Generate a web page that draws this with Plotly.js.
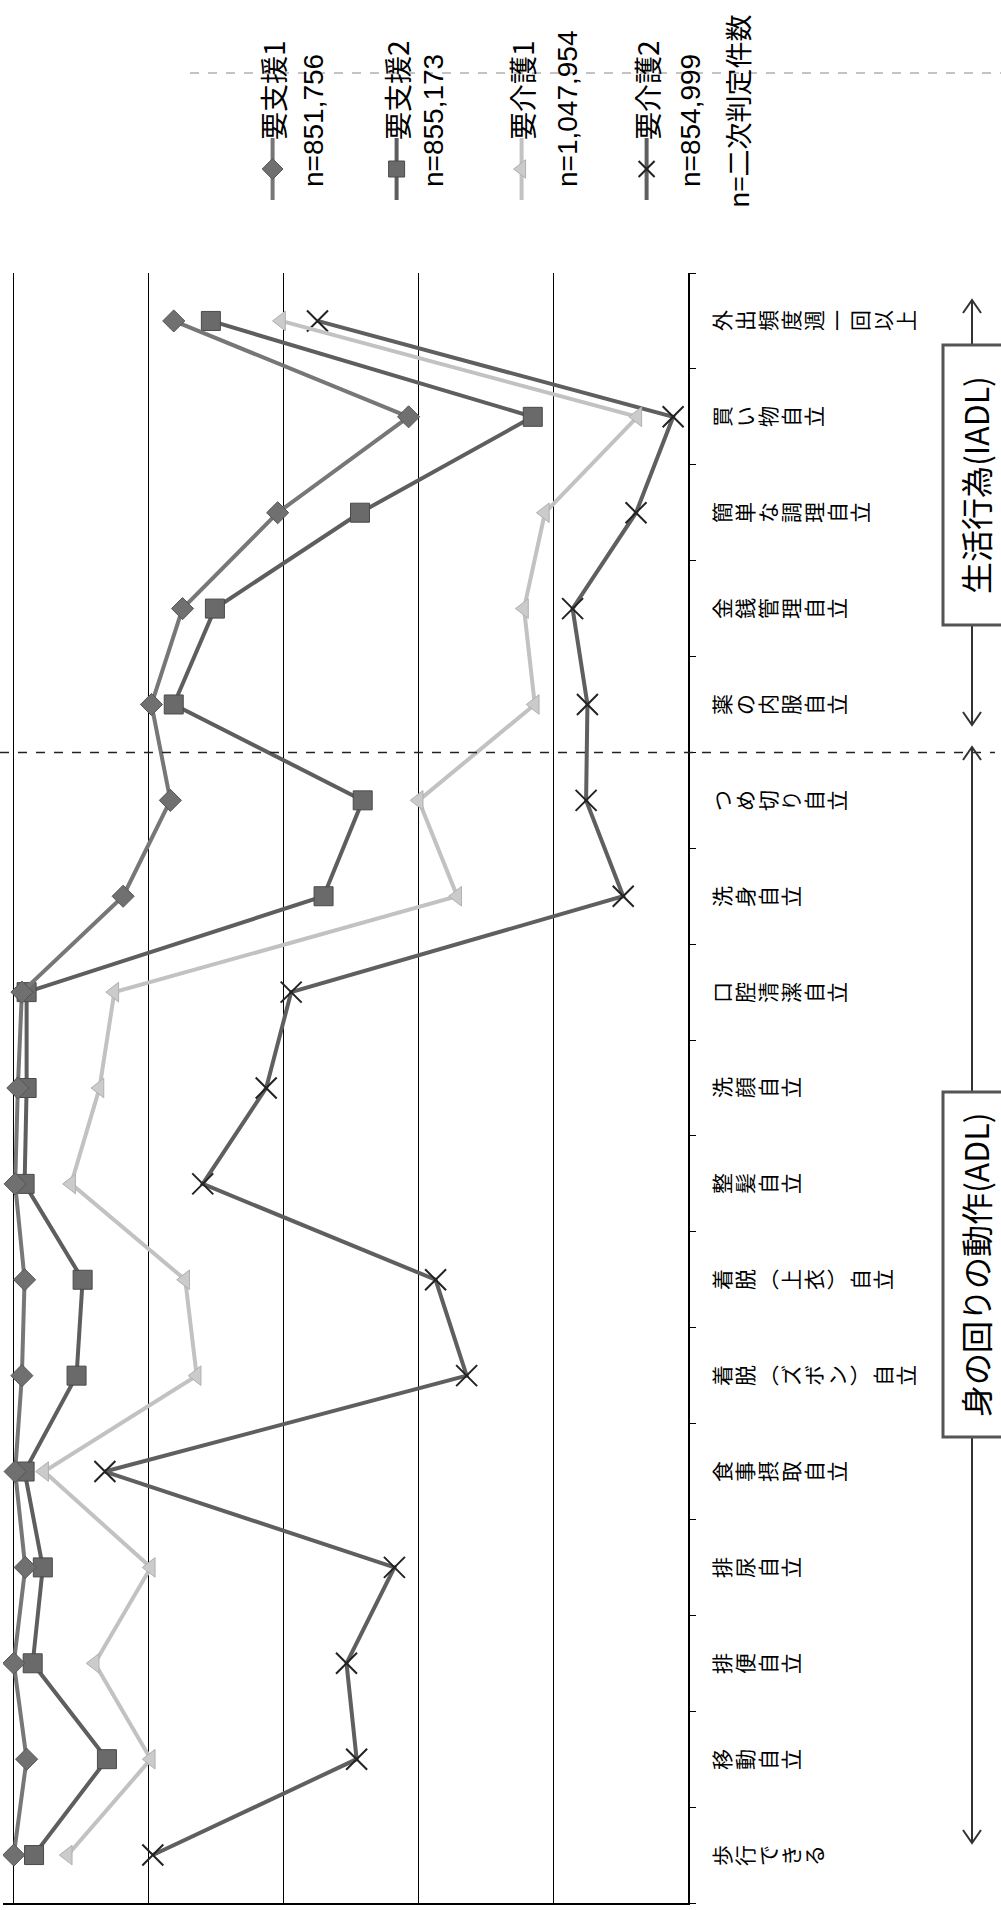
<!DOCTYPE html>
<html>
<head>
<meta charset="utf-8">
<script src="https://cdn.plot.ly/plotly-3.0.1.min.js"></script>
<style>
  html, body { margin: 0; padding: 0; overflow: hidden; background: #fff; }
  body { width: 1001px; height: 1910px; position: relative; }
  /* the scanned page is turned on its side: draw upright, then rotate */
  #chart {
    position: absolute; left: 0; top: 0;
    width: 1910px; height: 1001px;
    transform-origin: 0 0;
    transform: translate(0, 1910px) rotate(-90deg);
  }
</style>
</head>
<body>
<div id="chart"></div>
<script>
// categories, left to right on the upright chart
const categories = [
    '歩行できる', '移動自立', '排便自立', '排尿自立', '食事摂取自立',
    '着脱(ズボン)自立', '着脱(上衣)自立', '整髪自立', '洗顔自立', '口腔清潔自立',
    '洗身自立', 'つめ切り自立', '薬の内服自立', '金銭管理自立', '簡単な調理自立',
    '買い物自立', '外出頻度週一回以上'
];

// share of people able to do each item (%)
const yoshien1 = [99.9, 98.0, 99.9, 98.2, 99.7, 98.7, 98.3, 99.7, 99.3, 98.7, 83.7, 76.7, 79.5, 74.9, 60.8, 41.4, 76.2];
const yoshien2 = [96.9, 86.1, 97.1, 95.6, 98.3, 90.6, 89.7, 98.3, 98.0, 98.0, 54.0, 48.2, 76.2, 70.1, 48.6, 23.0, 70.7];
const yokaigo1 = [91.9, 79.6, 87.9, 79.6, 95.4, 72.8, 74.5, 91.4, 87.2, 85.0, 34.2, 39.9, 22.7, 24.3, 21.2, 7.5, 60.3];
const yokaigo2 = [79.3, 49.1, 50.6, 43.5, 86.4, 32.8, 37.4, 71.9, 62.5, 58.8, 9.6, 15.1, 14.9, 17.1, 7.7, 2.2, 54.9];

const seriesNames = ['要支援1', '要支援2', '要介護1', '要介護2'];
const seriesCounts = ['n=851,756', 'n=855,173', 'n=1,047,954', 'n=854,999'];
const countNote = 'n=二次判定件数';
const groupLabels = ['生活行為(IADL)', '身の回りの動作(ADL)'];

const JP = '"Noto Sans CJK JP", "Noto Sans", sans-serif';
const LAT = '"Liberation Sans", Arial, sans-serif';

// page geometry (upright orientation)
const W = 1910, H = 1001;
const ML = 7, MR = 273, MT = 3, MB = 313;
const px = u => (u - ML) / (W - ML - MR);
const py = v => (H - MB - v) / (H - MT - MB);

// legend rows (distance from the top of the upright page)
const legendRows = [273, 397, 522, 647];
const countRows = [313, 433, 567, 690];

function makeTrace(y, i, style) {
    // legend shows the symbol only, the name is written next to it below
    return Object.assign({
        x: categories,
        y: y,
        name: '',
        type: 'scatter',
        mode: 'lines+markers',
        legend: i === 0 ? 'legend' : 'legend' + (i + 1),
        hoverinfo: 'skip'
    }, style);
}

const data = [
    makeTrace(yokaigo2, 3, {
        line: {color: '#5f5f5f', width: 4},
        marker: {symbol: 'x-thin', size: 21, color: '#222', line: {color: '#222', width: 2}}
    }),
    makeTrace(yokaigo1, 2, {
        line: {color: '#c2c2c2', width: 4},
        marker: {symbol: 'triangle-up', size: 17, color: '#cbcbcb', line: {color: '#b0b0b0', width: 1}}
    }),
    makeTrace(yoshien2, 1, {
        line: {color: '#5e5e5e', width: 4},
        marker: {symbol: 'square', size: 19, color: '#6a6a6a', line: {color: '#4a4a4a', width: 1}}
    }),
    makeTrace(yoshien1, 0, {
        line: {color: '#777', width: 4},
        marker: {symbol: 'diamond', size: 17, color: '#707070', line: {color: '#555', width: 1}}
    })
];

function makeLegend(i) {
    return {
        x: px(1705), y: py(legendRows[i]),
        xanchor: 'left', yanchor: 'middle',
        itemwidth: 62,
        font: {family: JP, size: 14, color: '#000'},
        bgcolor: 'rgba(0,0,0,0)', borderwidth: 0
    };
}

const annotations = [];

// category labels, one character per line (vertical writing)
categories.forEach(cat => {
    cat.split('').forEach((ch, j) => {
        annotations.push({
            xref: 'x', yref: 'paper',
            x: cat, y: py(710 + 11.3 + j * 22.9),
            xanchor: 'center', yanchor: 'middle',
            text: ch === '(' ? '︵' : ch === ')' ? '︶' : ch,
            showarrow: false,
            font: {family: JP, size: 21, color: '#000'}
        });
    });
});

seriesNames.forEach((t, i) => {
    annotations.push({
        xref: 'paper', yref: 'paper',
        x: px(1768), y: py(legendRows[i]),
        xanchor: 'left', yanchor: 'middle',
        text: t, showarrow: false,
        font: {family: JP, size: 28, color: '#000'}
    });
});
seriesCounts.forEach((t, i) => {
    annotations.push({
        xref: 'paper', yref: 'paper',
        x: px(1721), y: py(countRows[i]),
        xanchor: 'left', yanchor: 'middle',
        text: t, showarrow: false,
        font: {family: LAT, size: 28, color: '#000'}
    });
});
annotations.push({
    xref: 'paper', yref: 'paper', x: px(1700), y: py(737),
    xanchor: 'left', yanchor: 'middle', text: countNote, showarrow: false,
    font: {family: JP, size: 27, color: '#000'}
});
[[1425, groupLabels[0]], [645, groupLabels[1]]].forEach(([u, t]) => {
    annotations.push({
        xref: 'paper', yref: 'paper', x: px(u), y: py(975),
        xanchor: 'center', yanchor: 'middle', text: t, showarrow: false,
        font: {family: JP, size: 32, color: '#000'}
    });
});

// bracket arrows with boxes on the right edge
const arrowV = 972;
function arrowPath(uTip, dir) {
    const b = uTip - dir * 13;
    return `M${px(b)},${py(arrowV - 9)} L${px(uTip)},${py(arrowV)} L${px(b)},${py(arrowV + 9)}`;
}
const lineStyle = {color: '#333', width: 2};
const shapes = [
    // dashed separator between ADL and IADL
    {type: 'line', xref: 'x', yref: 'paper', x0: 11.5, x1: 11.5, y0: py(0), y1: py(995),
        line: {color: '#222', width: 1.5, dash: 'dash'}},
    // faint dashed line across the legend (scan artefact)
    {type: 'line', xref: 'paper', yref: 'paper', x0: px(1837), x1: px(1837), y0: py(190), y1: py(1001),
        line: {color: '#888', width: 1, dash: 'dash'}},
    {type: 'line', xref: 'paper', yref: 'paper', x0: px(1185), x1: px(1610), y0: py(arrowV), y1: py(arrowV), line: lineStyle},
    {type: 'line', xref: 'paper', yref: 'paper', x0: px(67), x1: px(1163), y0: py(arrowV), y1: py(arrowV), line: lineStyle},
    {type: 'path', xref: 'paper', yref: 'paper', path: arrowPath(1610, 1), line: lineStyle},
    {type: 'path', xref: 'paper', yref: 'paper', path: arrowPath(1185, -1), line: lineStyle},
    {type: 'path', xref: 'paper', yref: 'paper', path: arrowPath(1163, 1), line: lineStyle},
    {type: 'path', xref: 'paper', yref: 'paper', path: arrowPath(67, -1), line: lineStyle},
    {type: 'rect', xref: 'paper', yref: 'paper', x0: px(1285), x1: px(1565), y0: py(943), y1: py(1012),
        fillcolor: '#fff', line: {color: '#555', width: 3}},
    {type: 'rect', xref: 'paper', yref: 'paper', x0: px(473), x1: px(818), y0: py(943), y1: py(1012),
        fillcolor: '#fff', line: {color: '#555', width: 3}}
];

const layout = {
    width: W,
    height: H,
    margin: {l: ML, r: MR, t: MT, b: MB, pad: 0},
    paper_bgcolor: '#fff',
    plot_bgcolor: '#fff',
    font: {family: JP, color: '#000'},
    showlegend: true,
    xaxis: {
        type: 'category',
        range: [-0.5, 16.5],
        showticklabels: false,
        tickson: 'boundaries',
        ticks: 'outside',
        ticklen: 6,
        tickcolor: '#000',
        showline: true,
        linecolor: '#000',
        linewidth: 1.5,
        showgrid: false,
        fixedrange: true
    },
    yaxis: {
        range: [0, 101.5],
        dtick: 20,
        showticklabels: false,
        ticks: '',
        showgrid: true,
        gridcolor: '#000',
        gridwidth: 1,
        zeroline: false,
        showline: true,
        linecolor: '#000',
        linewidth: 1.5,
        fixedrange: true
    },
    legend: makeLegend(0),
    legend2: makeLegend(1),
    legend3: makeLegend(2),
    legend4: makeLegend(3),
    shapes: shapes,
    annotations: annotations
};

Plotly.newPlot('chart', data, layout, {staticPlot: true, displayModeBar: false, responsive: false});
</script>
</body>
</html>
